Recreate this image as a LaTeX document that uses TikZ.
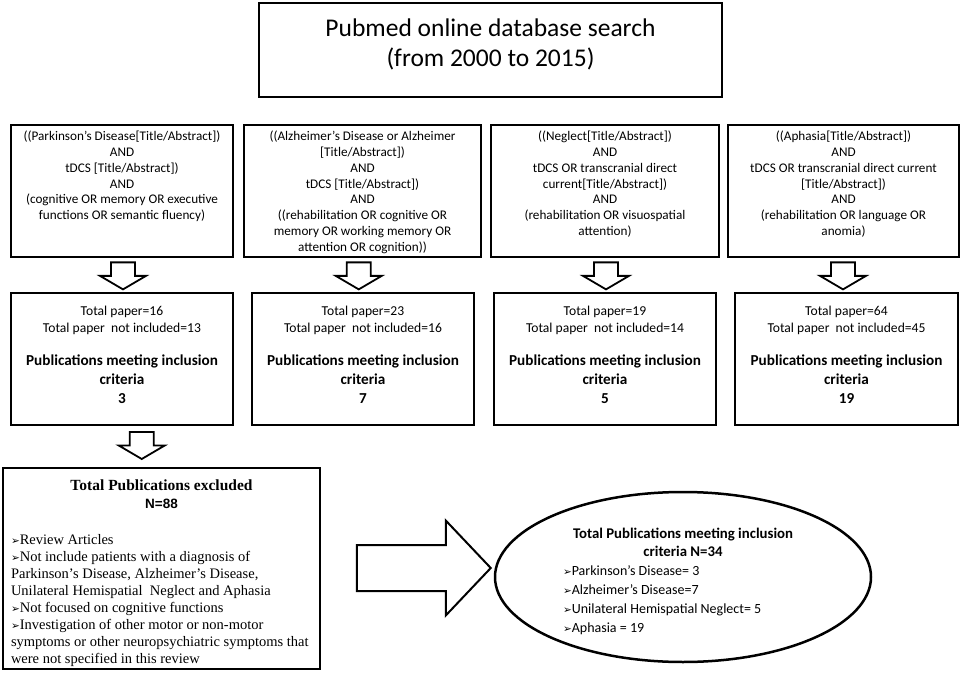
\documentclass[tikz,border=0pt]{standalone}
\usepackage{fontspec}
\setmainfont{Carlito}
\newfontfamily\tnr{Liberation Serif}
\newfontfamily\arl{Liberation Sans}
\newfontfamily\symf{DejaVu Sans}
\usetikzlibrary{shapes.geometric,calc}
\newcommand{\arrbul}{{\symf\fontsize{10.5}{10}\selectfont ➢}}
\newcommand{\qtext}[2]{\begin{minipage}[c][124pt][t]{#1}\centering\vspace*{2pt}\fontsize{13.2}{15.8}\selectfont #2\end{minipage}}
\newcommand{\ctext}[4]{\begin{minipage}[c][124pt][t]{#1}\centering\vspace*{9pt}%
  {\fontsize{13.6}{17}\selectfont Total paper=#2\\Total paper\ \ not included=#3\par}\vspace{14pt}%
  {\fontsize{15.2}{19}\selectfont\bfseries Publications meeting inclusion\\criteria\\#4\par}\end{minipage}}
\begin{document}
\begin{tikzpicture}[x=1pt,y=-1pt,
  box/.style={draw, rectangle, line width=1.5pt, inner sep=4pt},
  cbox/.style={box, line width=2pt},
  dnarrow/.pic={\draw[line width=1.8pt, line join=miter] (-12,-13.5) -- (12,-13.5) -- (12,0) -- (23,0) -- (0,13.5) -- (-23,0) -- (-12,0) -- cycle;},
  rtarrow/.pic={\draw[line width=2pt, line join=miter] (0,0) -- (-45,-47.5) -- (-45,-23) -- (-134,-23) -- (-134,23) -- (-45,23) -- (-45,47.5) -- cycle;}
]
\useasboundingbox (0,0) rectangle (964,674);
% top box
\node[box] (top) at (490.5,50) {\begin{minipage}[c][86pt][t]{455pt}\centering\fontsize{25.5}{30}\selectfont\vspace*{12pt}Pubmed online database search\\(from 2000 to 2015)\end{minipage}};
% query boxes
\node[box] (q1) at (122,191) {\qtext{214pt}{((Parkinson's Disease[Title/Abstract])\\AND\\tDCS [Title/Abstract])\\AND\\(cognitive OR memory OR executive\\functions OR semantic fluency)}};
\node[box] (q2) at (362.5,191) {\qtext{229pt}{((Alzheimer's Disease or Alzheimer\\{}[Title/Abstract])\\AND\\tDCS [Title/Abstract])\\AND\\((rehabilitation OR cognitive OR\\memory OR working memory OR\\attention OR cognition))}};
\node[box] (q3) at (605,191) {\qtext{220pt}{((Neglect[Title/Abstract])\\AND\\tDCS OR transcranial direct\\current[Title/Abstract])\\AND\\(rehabilitation OR visuospatial\\attention)}};
\node[box] (q4) at (843.5,191) {\qtext{223pt}{((Aphasia[Title/Abstract])\\AND\\tDCS OR transcranial direct current\\{}[Title/Abstract])\\AND\\(rehabilitation OR language OR\\anomia)}};
% count boxes
\node[cbox] (c1) at (122,359) {\ctext{214pt}{16}{13}{3}};
\node[cbox] (c2) at (363,359) {\ctext{214pt}{23}{16}{7}};
\node[cbox] (c3) at (605,359) {\ctext{214pt}{19}{14}{5}};
\node[cbox] (c4) at (846.5,359) {\ctext{215pt}{64}{45}{19}};
% down arrows
\pic at ($(q1.south)!0.5!(c1.north)+(1,1)$) {dnarrow};
\pic at ($(q2.south)!0.5!(c2.north)+(-4,1)$) {dnarrow};
\pic at ($(q3.south)!0.5!(c3.north)+(1,1)$) {dnarrow};
\pic at ($(q4.south)!0.5!(c4.north)+(-2,1)$) {dnarrow};
% excluded box
\node[cbox, inner xsep=8pt, inner ysep=4pt] (excl) at (161.5,568.5) {\begin{minipage}[c][193pt][t]{301pt}\tnr\fontsize{14.5}{17.1}\selectfont
  \vspace*{8pt}{\centering\fontsize{15.5}{17.3}\selectfont\bfseries Total Publications excluded\\{\arl\fontsize{13.5}{17}\selectfont N=88}\par}\vspace{19pt}\raggedright
  \arrbul Review Articles\\
  \arrbul Not include patients with a diagnosis of\\
  Parkinson’s Disease, Alzheimer’s Disease,\\
  Unilateral Hemispatial\ \ Neglect and Aphasia\\
  \arrbul Not focused on cognitive functions\\
  \arrbul Investigation of other motor or non-motor\\
  symptoms or other neuropsychiatric symptoms that\\
  were not specified in this review\end{minipage}};
\pic at ($(c1.south)!0.5!(excl.north)+(0,-1)$) {dnarrow};
% ellipse
\node[draw, ellipse, line width=2.5pt, minimum width=376pt, minimum height=170pt, inner sep=0pt] (incl) at (683,577)
 {\begin{minipage}{240pt}\vspace*{9pt}{\centering\fontsize{14.8}{18}\selectfont\bfseries Total Publications meeting inclusion\\criteria N=34\par}\raggedright\fontsize{14}{19}\selectfont
 \arrbul Parkinson’s Disease= 3\\
 \arrbul Alzheimer’s Disease=7\\
 \arrbul Unilateral Hemispatial Neglect= 5\\
 \arrbul Aphasia = 19\end{minipage}};
% big arrow
\pic at ($(incl.west)+(-3,-9)$) {rtarrow};
\end{tikzpicture}
\end{document}
